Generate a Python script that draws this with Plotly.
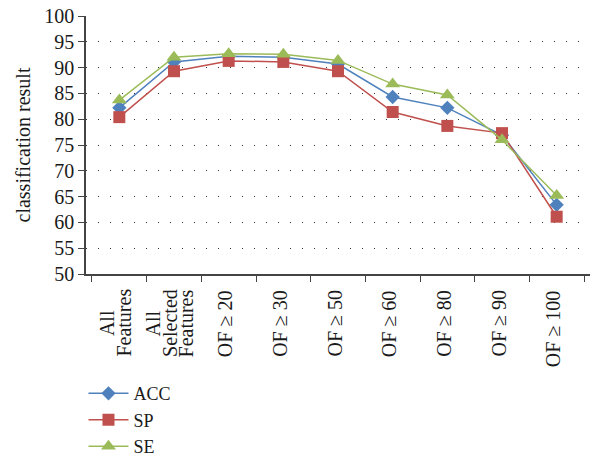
import plotly.graph_objects as go

# Category labels, one list of text lines per category (drawn rotated under the axis)
category_lines = [
    ["All", "Features"],
    ["All", "Selected", "Features"],
    ["OF ≥ 20"], ["OF ≥ 30"], ["OF ≥ 50"], ["OF ≥ 60"],
    ["OF ≥ 80"], ["OF ≥ 90"], ["OF ≥ 100"],
]
categories = [" ".join(lines) for lines in category_lines]
acc = [82.2, 91.1, 92.2, 92.0, 90.7, 84.3, 82.2, 76.9, 63.4]
sp = [80.4, 89.3, 91.3, 91.1, 89.3, 81.4, 78.7, 77.3, 61.1]
se = [83.7, 92.0, 92.7, 92.6, 91.4, 86.8, 84.7, 76.0, 65.2]
y_ticks = list(range(50, 101, 5))

font_family = "Liberation Serif"
text_color = "#1a1a1a"
fs = 20

fig = go.Figure()
series = [
    ("ACC", acc, "#4F81BD", "diamond", 11),
    ("SP", sp, "#C0504D", "square", 12),
    ("SE", se, "#9BBB59", "triangle-up", 13),
]
for name, vals, color, symbol, size in series:
    fig.add_trace(go.Scatter(
        x=categories, y=vals, name=name, mode="lines+markers",
        line=dict(color=color, width=1.5),
        marker=dict(symbol=symbol, size=size, color=color),
    ))

# Rotated category labels: tightly spaced lines, centred on each other,
# with the block hanging just below the axis
line_gap = 16.5
top_gap = 14
longest_px = 70
base_shift = -4
annotations = []
for cat, lines in zip(categories, category_lines):
    n = len(lines)
    for i, txt in enumerate(lines):
        xshift = base_shift + (i - (n - 1) / 2) * line_gap
        common = dict(x=cat, xref="x", y=0, yref="paper", text=txt,
                      showarrow=False, textangle=-90, xanchor="center",
                      xshift=xshift, font=dict(family=font_family, size=fs, color=text_color))
        if n == 1:
            annotations.append(dict(**common, yanchor="top", yshift=-top_gap))
        else:
            annotations.append(dict(**common, yanchor="middle",
                                    yshift=-(top_gap + longest_px / 2)))

fig.update_layout(
    width=597, height=457,
    margin=dict(l=86, r=7, t=16, b=183, autoexpand=False),
    paper_bgcolor="white", plot_bgcolor="white",
    font=dict(family=font_family, size=fs, color=text_color),
    showlegend=True,
    legend=dict(orientation="v", x=-0.005, xanchor="left", y=-0.392, yanchor="top",
                font=dict(size=18), bgcolor="rgba(0,0,0,0)", itemwidth=40,
                tracegroupgap=0),
    annotations=annotations,
)
fig.update_xaxes(
    type="category", tickson="boundaries", showticklabels=False,
    ticks="outside", ticklen=6, tickcolor="#444", automargin=False,
    showline=True, linecolor="#444", linewidth=1.5, showgrid=False,
)
fig.update_yaxes(
    range=[50, 100], tickvals=y_ticks, ticks="outside", ticklen=6, tickcolor="#444",
    showline=True, linecolor="#444", linewidth=1.5, automargin=False,
    showgrid=True, gridcolor="#333", gridwidth=1, griddash="1px,11px",
    zeroline=False, tickfont=dict(size=fs),
    title=dict(text="classification result", font=dict(size=20), standoff=8),
)

fig.write_html("out.html")
